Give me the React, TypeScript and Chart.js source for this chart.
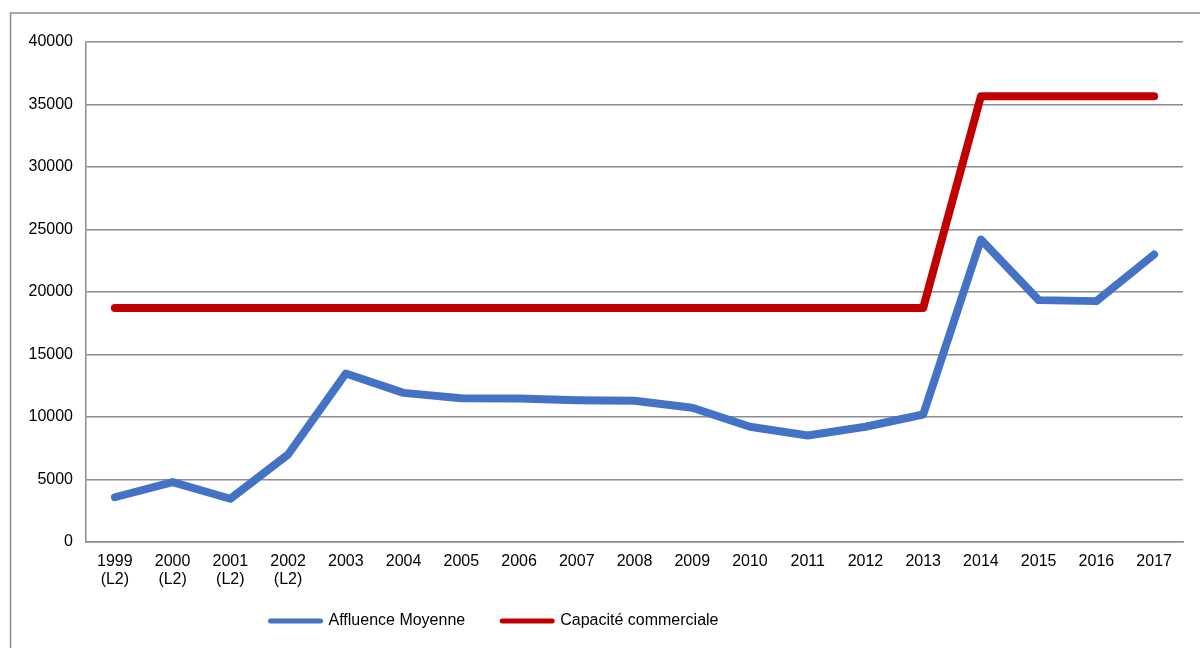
import React, { useEffect, useRef } from "react";
import { Chart, registerables } from "chart.js";

Chart.register(...registerables);

const categories: (string | string[])[] = [
  ["1999", "(L2)"], ["2000", "(L2)"], ["2001", "(L2)"], ["2002", "(L2)"],
  "2003", "2004", "2005", "2006", "2007", "2008", "2009", "2010",
  "2011", "2012", "2013", "2014", "2015", "2016", "2017",
];

const affluenceMoyenne = [
  3580, 4790, 3460, 7000, 13480, 11930, 11500, 11480, 11340, 11300,
  10740, 9220, 8520, 9220, 10200, 24200, 19350, 19270, 23000,
];

const capaciteCommerciale = [
  18730, 18730, 18730, 18730, 18730, 18730, 18730, 18730, 18730, 18730,
  18730, 18730, 18730, 18730, 18730, 35660, 35660, 35660, 35660,
];

const seriesNames = ["Affluence Moyenne", "Capacité commerciale"];
const seriesColors = ["#4472C4", "#C00000"];

const yTicks = { min: 0, max: 40000, step: 5000 };

const FONT = "'Liberation Sans', Arial, sans-serif";
const GRID = "#8c8c8c";

const framePlugin = {
  id: "frame",
  beforeDraw(chart: any) {
    const ctx = chart.ctx;
    ctx.save();
    ctx.fillStyle = "#ffffff";
    ctx.fillRect(0, 0, chart.width, chart.height);
    ctx.strokeStyle = GRID;
    ctx.lineWidth = 1.5;
    ctx.strokeRect(10.5, 13, 1400, 800);
    ctx.restore();
  },
};

const legendShift = {
  id: "legendShift",
  afterLayout(chart: any) {
    const lg = chart.legend;
    if (lg) {
      lg.left = 0;
      lg.right = 989;
      lg.top = 576;
      lg.bottom = 639;
    }
  },
};

export default function App() {
  const ref = useRef<HTMLCanvasElement | null>(null);

  useEffect(() => {
    if (!ref.current) return;
    const chart = new Chart(ref.current, {
      type: "line",
      data: {
        labels: categories as any,
        datasets: [
          {
            label: seriesNames[0],
            data: affluenceMoyenne,
            borderColor: seriesColors[0],
            backgroundColor: seriesColors[0],
            borderWidth: 8,
            borderCapStyle: "round",
            borderJoinStyle: "round",
            pointRadius: 0,
            tension: 0,
          },
          {
            label: seriesNames[1],
            data: capaciteCommerciale,
            borderColor: seriesColors[1],
            backgroundColor: seriesColors[1],
            borderWidth: 8,
            borderCapStyle: "round",
            borderJoinStyle: "round",
            pointRadius: 0,
            tension: 0,
          },
        ],
      },
      options: {
        responsive: false,
        animation: false,
        layout: { padding: { left: 0, right: 17, top: 42, bottom: 10 } },
        scales: {
          x: {
            offset: true,
            grid: { display: false, drawTicks: false, offset: true },
            border: { display: true, color: GRID, width: 1.5 },
            ticks: {
              color: "#000",
              font: { family: FONT, size: 16, lineHeight: 1.1 },
              padding: 11,
              maxRotation: 0,
              autoSkip: false,
            },
            afterFit(scale: any) {
              scale.height = 60;
            },
          },
          y: {
            min: yTicks.min,
            max: yTicks.max,
            grid: { color: GRID, lineWidth: 1.5, drawTicks: false },
            border: { display: true, color: GRID, width: 1.5 },
            ticks: {
              stepSize: yTicks.step,
              color: "#000",
              font: { family: FONT, size: 16 },
              padding: 13,
              callback: (v: any) => String(v),
            },
            afterFit(scale: any) {
              scale.width = 86;
            },
          },
        },
        plugins: {
          tooltip: { enabled: false },
          legend: {
            position: "bottom",
            align: "center",
            maxHeight: 36,
            labels: {
              color: "#000",
              font: { family: FONT, size: 16 },
              usePointStyle: true,
              pointStyle: "line",
              pointStyleWidth: 50,
              padding: 37,
              generateLabels: (ch: any) =>
                ch.data.datasets.map((ds: any, i: number) => ({
                  text: ds.label,
                  strokeStyle: ds.borderColor,
                  fillStyle: ds.borderColor,
                  lineWidth: 5,
                  lineCap: "round",
                  pointStyle: "line",
                  hidden: false,
                  datasetIndex: i,
                  fontColor: "#000",
                })),
            },
          },
        },
      },
      plugins: [framePlugin, legendShift],
    });
    return () => chart.destroy();
  }, []);

  return (
    <div style={{ position: "absolute", left: 0, top: 0, width: 1200, height: 648 }}>
      <canvas ref={ref} width={1200} height={648} />
    </div>
  );
}
